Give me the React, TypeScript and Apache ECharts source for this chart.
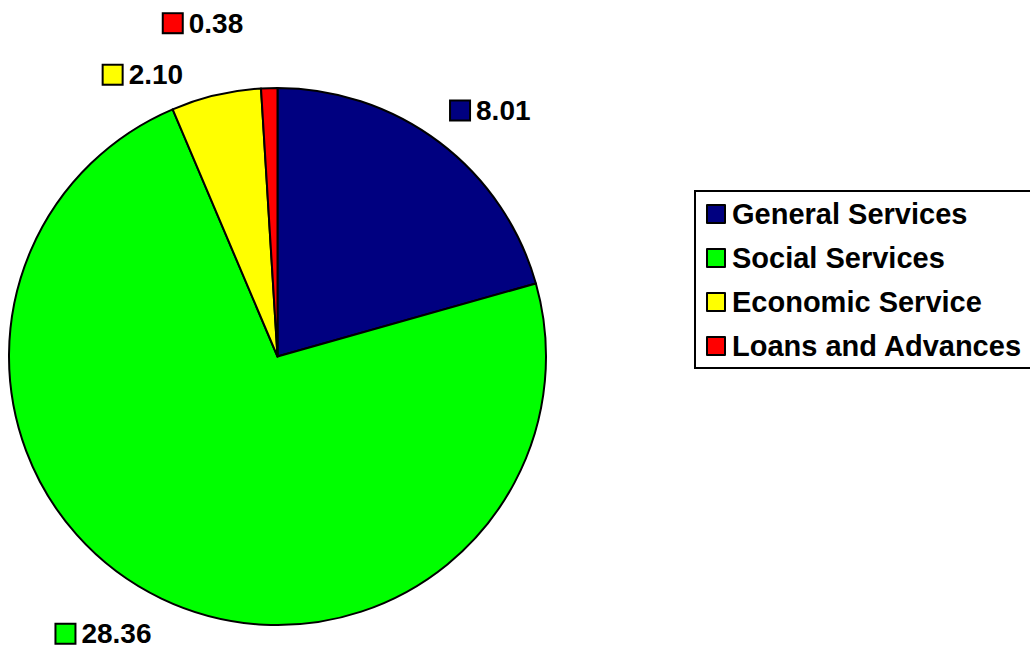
import React, { useEffect, useRef } from "react";
import * as echarts from "echarts";

const categories = ["General Services", "Social Services", "Economic Service", "Loans and Advances"];
const values = [8.01, 28.36, 2.1, 0.38];
const valueLabels = ["8.01", "28.36", "2.10", "0.38"];
const colors = ["#000080", "#00FF00", "#FFFF00", "#FF0000"];

const FONT = "'Liberation Sans', Arial, Helvetica, sans-serif";

// per-slice label placement tuning (label line lengths / distances)
const labelLens = [40, 39, 21, 65];
const labelDists = [-12.6, -7, 28, 24];

export default function App() {
  const ref = useRef<HTMLDivElement>(null);
  useEffect(() => {
    if (!ref.current) return;
    const chart = echarts.init(ref.current, null, { renderer: "svg" });
    const rich: any = {
      t: { fontSize: 28, fontWeight: "bold", color: "#000", fontFamily: FONT, padding: [0, 0, 0, 7] },
    };
    colors.forEach((c, i) => {
      rich["s" + i] = { width: 18, height: 18, backgroundColor: c, borderColor: "#000", borderWidth: 2 };
    });
    chart.setOption({
      animation: false,
      backgroundColor: "#fff",
      legend: {
        orient: "vertical",
        left: 695,
        top: 191,
        padding: [8, 10, 7, 11],
        itemWidth: 18,
        itemHeight: 18,
        itemGap: 14,
        icon: "rect",
        borderColor: "#000",
        borderWidth: 2,
        data: categories,
        itemStyle: { borderColor: "#000", borderWidth: 2 },
        textStyle: {
          fontSize: 29,
          fontWeight: "bold",
          color: "#000",
          fontFamily: FONT,
          lineHeight: 30,
          padding: [0, 0, 0, 2],
        },
      },
      series: [
        {
          type: "pie",
          center: [277.5, 356.5],
          radius: 268.5,
          startAngle: 90,
          clockwise: true,
          avoidLabelOverlap: false,
          itemStyle: { borderColor: "#000", borderWidth: 2 },
          emphasis: { disabled: true },
          label: {
            show: true,
            position: "outside",
            formatter: (p: any) => `{s${p.dataIndex}|}{t|${valueLabels[p.dataIndex]}}`,
            rich,
          },
          labelLine: { show: false, length: 40, length2: 0 },
          data: categories.map((name, i) => ({
            name,
            value: values[i],
            itemStyle: { color: colors[i] },
            label: { distanceToLabelLine: labelDists[i] },
            labelLine: { show: false, length: labelLens[i], length2: 0 },
          })),
        },
      ],
    });
    return () => chart.dispose();
  }, []);
  return (
    <div
      ref={ref}
      style={{ position: "absolute", left: 0, top: 0, width: 1030, height: 648, background: "#fff" }}
    />
  );
}
